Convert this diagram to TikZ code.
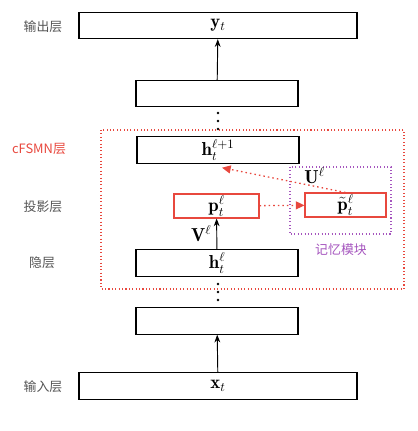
\documentclass[tikz,border=0pt]{standalone}
\usepackage{amsmath,amssymb}
\usepackage{fontspec}
\newfontfamily\cjk{Noto Sans CJK SC}
\usetikzlibrary{positioning,arrows.meta}
\definecolor{fsmnred}{RGB}{232,72,62}
\definecolor{mempurple}{RGB}{165,85,190}
\definecolor{lblgray}{RGB}{85,85,85}

\begin{document}
\begin{tikzpicture}[x=0.03cm,y=-0.03cm,>=Stealth,font=\fontsize{16}{19}\selectfont,
layer/.style={draw,line width=0.9pt,minimum height=0.79cm,inner sep=0pt},
wide/.style={layer,minimum width=8.34cm}, mid/.style={layer,minimum width=4.86cm},
proj/.style={layer,draw=fsmnred,minimum width=2.55cm,minimum height=0.72cm},
lbl/.style={text=lblgray,font=\cjk\fontsize{11}{13}\selectfont},
memarrow/.style={->,fsmnred,line width=1.1pt,dash pattern=on 1.3pt off 2.6pt,>={Triangle[length=2.6mm,width=2.4mm]}}]
\useasboundingbox (0,0) rectangle (417,431);
\node[wide] (y) at (218,25.5) {$\mathbf{y}_t$}; \node[mid] (top) at (217,93.5) {};
\node[mid] (h1) at (218,150) {$\mathbf{h}_t^{\ell+1}$}; \node[proj] (p) at (216.5,206) {$\mathbf{p}_t^{\ell}$};
\node[proj,minimum width=2.43cm] (pt) at (345.5,205) {$\tilde{\mathbf{p}}_t^{\ell}$};
\node[mid] (h) at (217,263) {$\mathbf{h}_t^{\ell}$}; \node[mid] (bot) at (217,321) {}; \node[wide] (x) at (218,386) {$\mathbf{x}_t$};
% frames
\draw[fsmnred,dotted,line width=0.9pt] (101,130) rectangle (404,289);
\draw[mempurple,dotted,line width=0.9pt] (290,167) rectangle (391,234);
% labels
\node[lbl] (lout) at (43,27) {输出层}; \node[lbl,text=fsmnred] (lfsmn) at (39,149) {cFSMN层};
\node[lbl] (lproj) at (43,207) {投影层}; \node[lbl] (lhid) at (42,263) {隐层}; \node[lbl] (lin) at (43,387) {输入层};
\node[lbl,text=mempurple] (lmem) at (341,250) {记忆模块};
% connectors
\draw[->,line width=0.8pt] (top) -- (y); \draw[->,line width=0.8pt] (h) -- node[left=1pt] {$\mathbf{V}^{\ell}$} (p);
\draw[->,line width=0.8pt] (x) -- (bot);
\draw[memarrow] (p) -- (pt); \draw[memarrow] (pt.north) -- node[above=-2pt,pos=0.25,text=black] {$\mathbf{U}^{\ell}$} ([xshift=0.12cm,yshift=-0.12cm]h1.south);
\foreach \yy in {113,121,129,284,292,300} \fill (218,\yy) circle (1.3);
\end{tikzpicture}
\end{document}
